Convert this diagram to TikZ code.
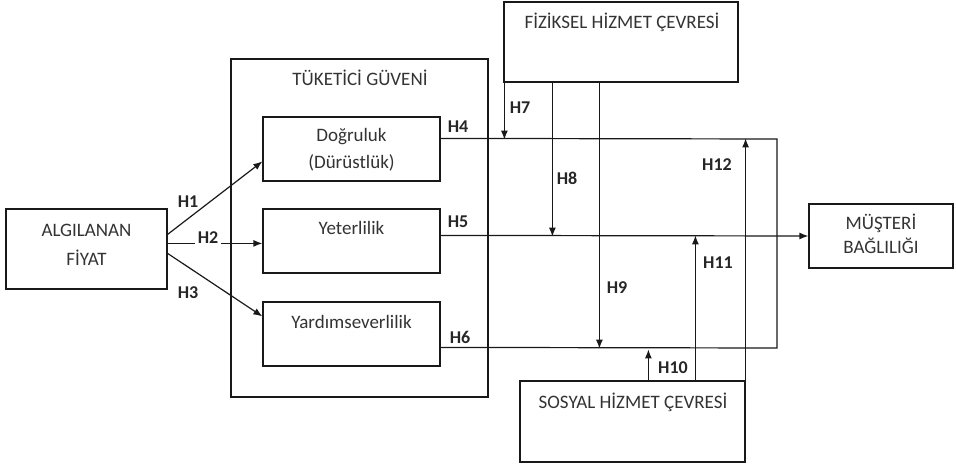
\documentclass[tikz,border=0pt]{standalone}
\usepackage{fontspec}
\setmainfont{Carlito}
\usetikzlibrary{arrows.meta,calc}
\tikzset{
  box/.style={draw=black!90,line width=1.2pt,rectangle,inner sep=0pt},
  txt/.style={text=black!80,font=\fontsize{19}{23}\selectfont,inner sep=0pt,align=center},
  hl/.style={text=black!85,font=\fontsize{18}{20}\selectfont\bfseries,inner sep=1pt},
  ln/.style={draw=black!90,line width=1.2pt},
  arr/.style={ln,-{Latex[length=9pt,width=7pt]}}
}
\begin{document}
\begin{tikzpicture}[x=1pt,y=-1pt]
\useasboundingbox (0,0) rectangle (956,466);
% boxes
\node[box,minimum width=161pt,minimum height=80pt] (alg) at (86.5,249) {};
\node[box,minimum width=257pt,minimum height=338pt] (tg) at (359.5,228) {};
\node[box,minimum width=177pt,minimum height=64pt] (dog) at (351.5,149) {};
\node[box,minimum width=177pt,minimum height=64pt] (yet) at (351.5,241) {};
\node[box,minimum width=177pt,minimum height=64pt] (yar) at (351.5,334) {};
\node[box,minimum width=234pt,minimum height=80pt] (fiz) at (621,42) {};
\node[box,minimum width=225pt,minimum height=81pt] (sos) at (632.5,421.5) {};
\node[box,minimum width=144pt,minimum height=64pt] (mus) at (881,236) {};
% texts
\node[txt] (algA) at (86.5,230) {ALGILANAN};
\node[txt] (algB) at (86.5,258) {FİYAT};
\node[txt] (tgT) at (360,78) {TÜKETİCİ GÜVENİ};
\node[txt] (dogA) at (351.5,137) {Doğruluk};
\node[txt] (dogB) at (351.5,163) {(Dürüstlük)};
\node[txt] (yetT) at (351.5,228) {Yeterlilik};
\node[txt] (yarT) at (351.5,322) {Yardımseverlilik};
\node[txt] (fizT) at (622,22) {FİZİKSEL HİZMET ÇEVRESİ};
\node[txt] (sosT) at (633,402) {SOSYAL HİZMET ÇEVRESİ};
\node[txt] (musA) at (881,223) {MÜŞTERİ};
\node[txt] (musB) at (881,246) {BAĞLILIĞI};
% coordinates
\coordinate (rc4) at (777,139);
\coordinate (rc6) at (777,348);
% H1-H3
\draw[arr] ($(alg.north east)+(0,26)$) -- ($(dog.north west)+(0,45)$);
\draw[arr] ($(alg.north east)+(0,35)$) -- ($(yet.north west)+(0,35)$);
\draw[arr] ($(alg.north east)+(0,45)$) -- ($(yar.north west)+(0,15)$);
% H4, H6 and right column
\draw[ln] ($(dog.north east)+(0,22)$) -- (rc4) -- (rc6) -- ($(yar.north east)+(0,46)$);
% H5
\draw[arr] ($(yet.north east)+(0,27)$) -- (mus.west);
% H7 H8 H9
\draw[arr] ($(fiz.south west)+(1,0)$) -- ($(fiz.south west)+(1,57)$);
\draw[arr] ($(fiz.south west)+(49,0)$) -- ($(fiz.south west)+(49,154)$);
\draw[arr] ($(fiz.south west)+(96,0)$) -- ($(fiz.south west)+(96,266)$);
% H10 H11 H12
\draw[arr] ($(sos.north west)+(129,0)$) -- ($(sos.north west)+(129,-31)$);
\draw[arr] ($(sos.north west)+(176,0)$) -- ($(sos.north west)+(176,-145)$);
\draw[arr] (sos.north east) -- ($(sos.north east)+(0,-242)$);
% labels
\node[hl] (h1) at (188,202) {H1};
\node[hl,fill=white,inner xsep=3pt] (h2) at (208,238) {H2};
\node[hl] (h3) at (188,293) {H3};
\node[hl] (h4) at (458,127) {H4};
\node[hl] (h5) at (458,222) {H5};
\node[hl] (h6) at (460,337) {H6};
\node[hl] (h7) at (520,108) {H7};
\node[hl] (h8) at (567,178) {H8};
\node[hl] (h9) at (617,288) {H9};
\node[hl] (h10) at (673,368) {H10};
\node[hl] (h11) at (718,263) {H11};
\node[hl] (h12) at (717,165) {H12};
\end{tikzpicture}
\end{document}
